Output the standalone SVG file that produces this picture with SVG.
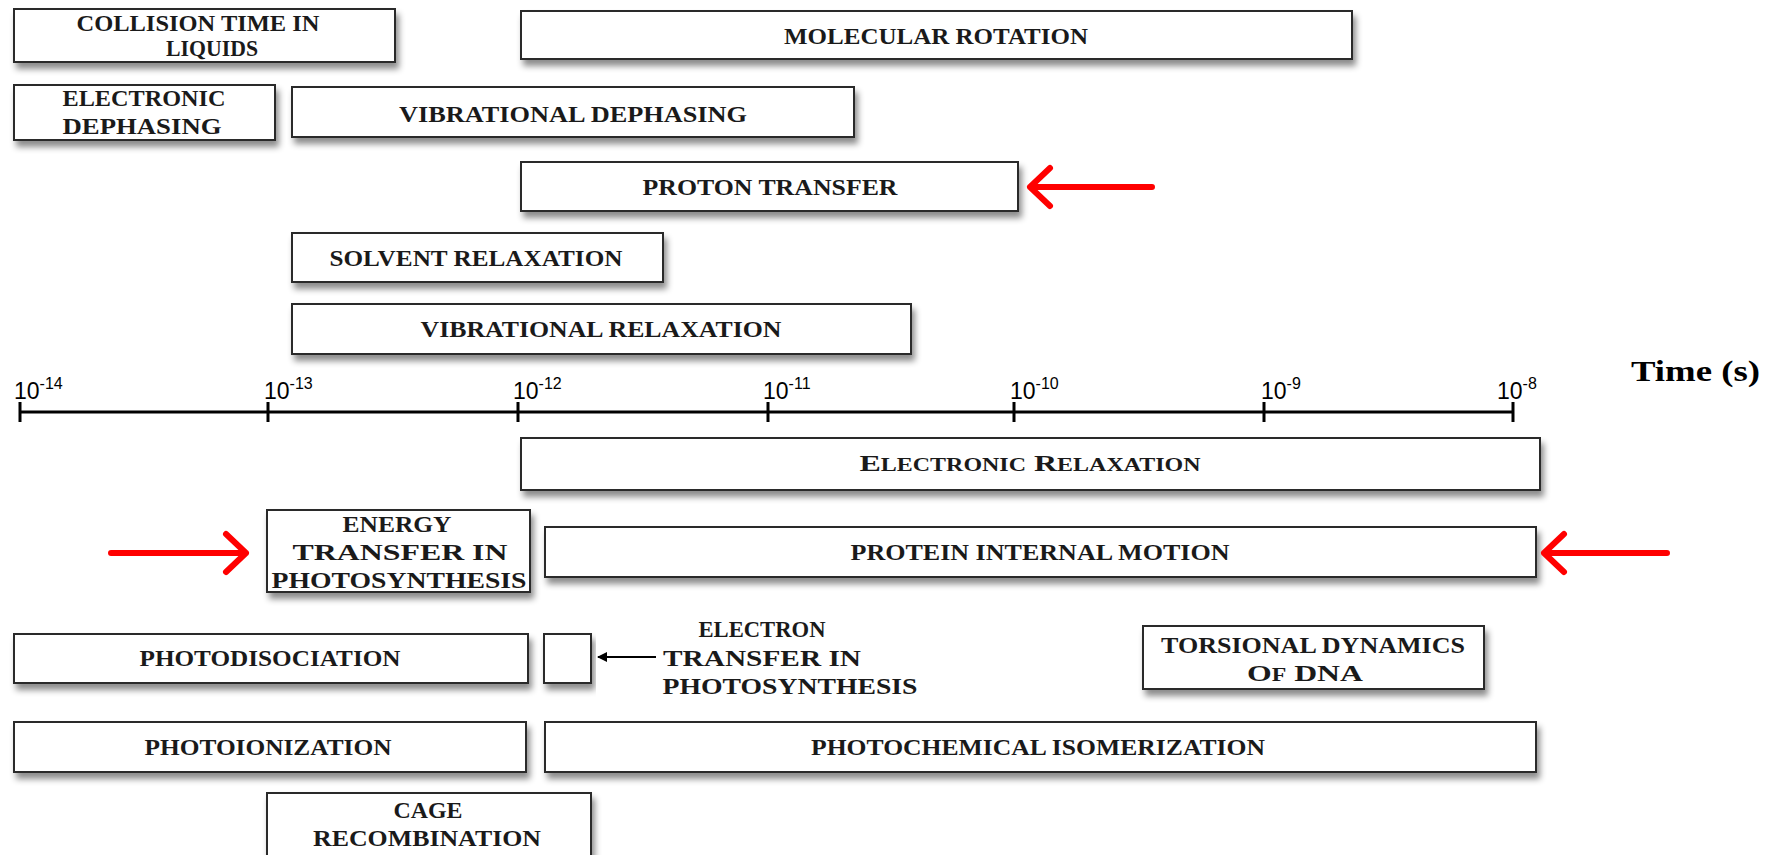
<svg xmlns="http://www.w3.org/2000/svg" width="1781" height="855" viewBox="0 0 1781 855">
<defs>
<filter id="sh" x="-10%" y="-30%" width="120%" height="180%">
<feDropShadow dx="3" dy="6" stdDeviation="3" flood-color="#000" flood-opacity="0.45"/>
</filter>
<marker id="ah" markerWidth="10" markerHeight="10" refX="9" refY="5" orient="auto" markerUnits="userSpaceOnUse">
<path d="M0,0 L10,5 L0,10 Z" fill="#000"/>
</marker>
</defs>
<style>
.box{fill:#fff;stroke:#2b2b2b;stroke-width:2;filter:url(#sh)}
.lb{font-family:"Liberation Serif","Times New Roman",serif;font-weight:bold;font-size:24px;fill:#1a1a1a;text-anchor:middle}
.ax{font-family:"Liberation Sans",Arial,sans-serif;font-size:23px;fill:#000}
.sup{font-size:16px}
.axis{stroke:#000;stroke-width:3;fill:none}
.red{stroke:#f00;stroke-width:6;fill:none;stroke-linecap:round;stroke-linejoin:round}
</style>
<rect width="1781" height="855" fill="#fff"/>

<g id="collision"><rect class="box" x="14" y="9" width="381" height="53"/>
<text class="lb" x="198" y="31" textLength="243" lengthAdjust="spacingAndGlyphs">COLLISION TIME IN</text>
<text class="lb" x="212" y="56" textLength="92" lengthAdjust="spacingAndGlyphs">LIQUIDS</text></g>

<g id="molecular-rotation"><rect class="box" x="521" y="11" width="831" height="48"/>
<text class="lb" x="936" y="44" textLength="304" lengthAdjust="spacingAndGlyphs">MOLECULAR ROTATION</text></g>

<g id="electronic-dephasing"><rect class="box" x="14" y="85" width="261" height="55"/>
<text class="lb" x="144" y="106" textLength="163" lengthAdjust="spacingAndGlyphs">ELECTRONIC</text>
<text class="lb" x="142" y="134" textLength="159" lengthAdjust="spacingAndGlyphs">DEPHASING</text></g>

<g id="vibrational-dephasing"><rect class="box" x="292" y="87" width="562" height="50"/>
<text class="lb" x="573" y="122" textLength="348" lengthAdjust="spacingAndGlyphs">VIBRATIONAL DEPHASING</text></g>

<g id="proton-transfer"><rect class="box" x="521" y="162" width="497" height="49"/>
<text class="lb" x="770" y="195" textLength="255" lengthAdjust="spacingAndGlyphs">PROTON TRANSFER</text></g>

<g id="solvent-relaxation"><rect class="box" x="292" y="233" width="371" height="49"/>
<text class="lb" x="476" y="266" textLength="293" lengthAdjust="spacingAndGlyphs">SOLVENT RELAXATION</text></g>

<g id="vibrational-relaxation"><rect class="box" x="292" y="304" width="619" height="50"/>
<text class="lb" x="601" y="337" textLength="361" lengthAdjust="spacingAndGlyphs">VIBRATIONAL RELAXATION</text></g>

<g id="axis">
<line class="axis" x1="20" y1="412" x2="1513" y2="412"/>
<path class="axis" d="M20,402V422M268,402V422M518,402V422M768,402V422M1014,402V422M1264,402V422M1513,402V422"/>
<text class="ax" x="14" y="399">10<tspan class="sup" dy="-10">-14</tspan></text>
<text class="ax" x="264" y="399">10<tspan class="sup" dy="-10">-13</tspan></text>
<text class="ax" x="513" y="399">10<tspan class="sup" dy="-10">-12</tspan></text>
<text class="ax" x="763" y="399">10<tspan class="sup" dy="-10">-11</tspan></text>
<text class="ax" x="1010" y="399">10<tspan class="sup" dy="-10">-10</tspan></text>
<text class="ax" x="1261" y="399">10<tspan class="sup" dy="-10">-9</tspan></text>
<text class="ax" x="1497" y="399">10<tspan class="sup" dy="-10">-8</tspan></text>
<text x="1631" y="381" font-family="'Liberation Serif','Times New Roman',serif" font-weight="bold" font-size="30" fill="#000" textLength="129" lengthAdjust="spacingAndGlyphs">Time (s)</text>
</g>

<g id="electronic-relaxation"><rect class="box" x="521" y="438" width="1019" height="52"/>
<text class="lb" x="1030" y="471" textLength="341" lengthAdjust="spacingAndGlyphs">E<tspan font-size="18">LECTRONIC</tspan> R<tspan font-size="18">ELAXATION</tspan></text></g>

<g id="energy-transfer"><rect class="box" x="267" y="510" width="263" height="82"/>
<text class="lb" x="397" y="532" textLength="109" lengthAdjust="spacingAndGlyphs">ENERGY</text>
<text class="lb" x="400" y="560" textLength="215" lengthAdjust="spacingAndGlyphs">TRANSFER IN</text>
<text class="lb" x="399" y="588" textLength="255" lengthAdjust="spacingAndGlyphs">PHOTOSYNTHESIS</text></g>

<g id="protein-internal-motion"><rect class="box" x="545" y="527" width="991" height="50"/>
<text class="lb" x="1040" y="560" textLength="379" lengthAdjust="spacingAndGlyphs">PROTEIN INTERNAL MOTION</text></g>

<g id="photodisociation"><rect class="box" x="14" y="634" width="514" height="49"/>
<text class="lb" x="270" y="666" textLength="261" lengthAdjust="spacingAndGlyphs">PHOTODISOCIATION</text></g>

<g id="electron-transfer"><rect class="box" x="544" y="634" width="47" height="49"/>
<text class="lb" x="762" y="637" textLength="127" lengthAdjust="spacingAndGlyphs">ELECTRON</text>
<text class="lb" x="762" y="666" textLength="198" lengthAdjust="spacingAndGlyphs">TRANSFER IN</text>
<text class="lb" x="790" y="694" textLength="255" lengthAdjust="spacingAndGlyphs">PHOTOSYNTHESIS</text></g>

<g id="torsional-dynamics"><rect class="box" x="1143" y="626" width="341" height="63"/>
<text class="lb" x="1313" y="653" textLength="304" lengthAdjust="spacingAndGlyphs">TORSIONAL DYNAMICS</text>
<text class="lb" x="1305" y="681" textLength="116" lengthAdjust="spacingAndGlyphs">O<tspan font-size="18">F</tspan> DNA</text></g>

<g id="photoionization"><rect class="box" x="14" y="722" width="512" height="50"/>
<text class="lb" x="268" y="755" textLength="247" lengthAdjust="spacingAndGlyphs">PHOTOIONIZATION</text></g>

<g id="photochemical-isomerization"><rect class="box" x="545" y="722" width="991" height="50"/>
<text class="lb" x="1038" y="755" textLength="454" lengthAdjust="spacingAndGlyphs">PHOTOCHEMICAL ISOMERIZATION</text></g>

<g id="cage-recombination"><rect class="box" x="267" y="793" width="324" height="72"/>
<text class="lb" x="428" y="818" textLength="69" lengthAdjust="spacingAndGlyphs">CAGE</text>
<text class="lb" x="427" y="846" textLength="228" lengthAdjust="spacingAndGlyphs">RECOMBINATION</text></g>

<g id="connectors">
<line x1="656" y1="657" x2="598" y2="657" stroke="#000" stroke-width="2" marker-end="url(#ah)"/>
<path class="red" d="M1152,187H1030M1050,168L1030,187L1050,206"/>
<path class="red" d="M111,553H246M226,534L246,553L226,572"/>
<path class="red" d="M1667,553H1544M1564,534L1544,553L1564,572"/>
</g>
</svg>
